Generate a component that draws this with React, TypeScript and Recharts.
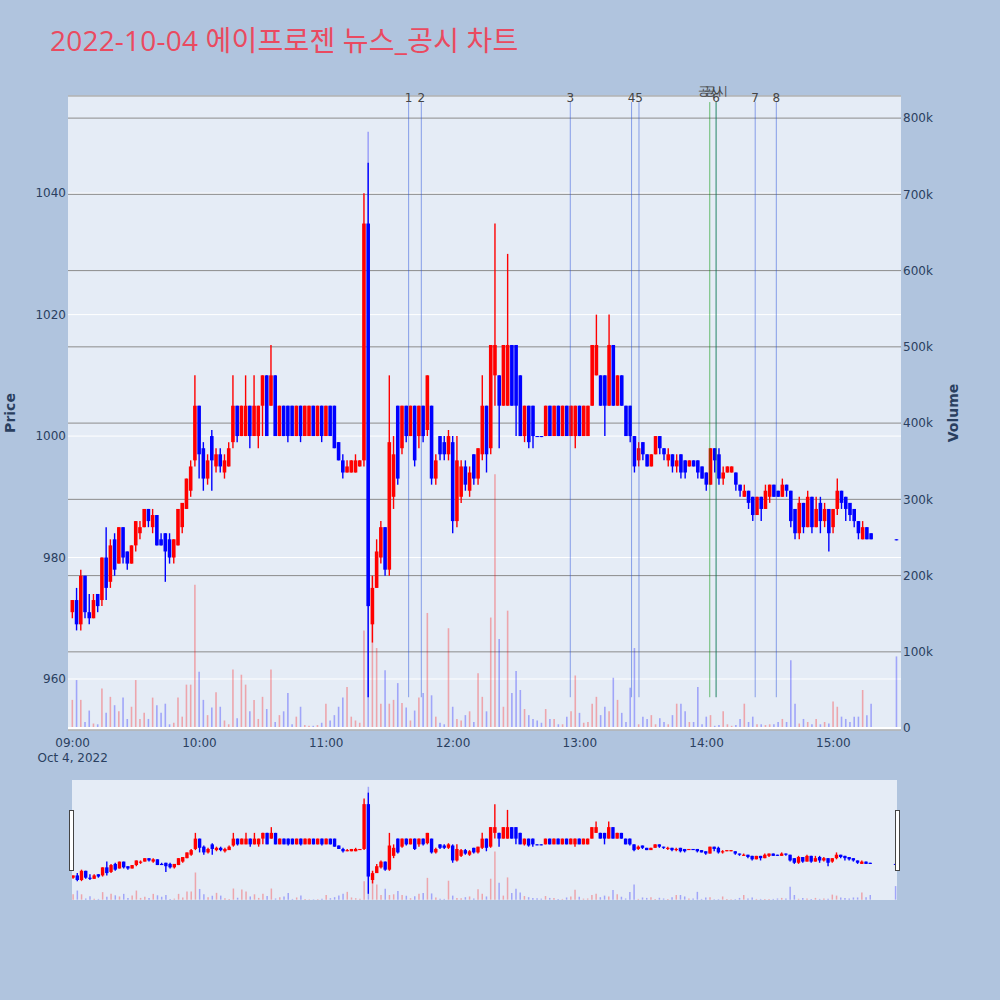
import React from "react";
import {
  Bar,
  CartesianGrid,
  Cell,
  ComposedChart,
  ReferenceLine,
  XAxis,
  YAxis
} from "recharts";

// 2-minute candles from 09:00 (minute 0) to 15:18, plus the 15:30 closing print
const opens = [
  971, 973, 969, 977, 971, 970, 974, 973, 980, 976,
  983, 979, 985, 981, 979, 982, 984, 985, 988, 985,
  987, 983, 984, 983, 980, 982, 985, 988, 991, 996,
  1005, 998, 993, 1000, 995, 997, 994, 995, 999, 1005,
  1000, 1000, 1005, 1000, 1000, 1005, 1010, 1005, 1010, 1000,
  1005, 1005, 1005, 1000, 1005, 1000, 1000, 1005, 1000, 1005,
  1000, 1005, 1005, 999, 996, 994, 994, 994, 995, 996,
  1035, 969, 975, 980, 985, 978, 990, 1005, 998, 1005,
  1000, 1005, 1000, 1005, 1001, 1005, 993, 1000, 999, 997,
  999, 986, 990, 995, 991, 997, 993, 997, 1005, 998,
  1010, 1010, 1005, 1005, 1015, 1015, 1010, 1000, 1005, 1005,
  1000, 1000, 1000, 1005, 1000, 1005, 1000, 1005, 1000, 1000,
  1005, 1000, 1000, 1005, 1010, 1010, 1010, 1005, 1015, 1005,
  1010, 1005, 1005, 1000, 996, 999, 997, 995, 997, 1000,
  998, 996, 997, 995, 997, 996, 995, 996, 996, 995,
  994, 992, 998, 997, 993, 994, 994, 994, 992, 990,
  991, 990, 987, 990, 988, 990, 992, 991, 990, 992,
  991, 988, 984, 989, 985, 990, 985, 989, 986, 988,
  985, 988, 991, 990, 989, 988, 986, 983, 985, 984,
  983
];

const highs = [
  973, 975, 978, 977, 974, 974, 974, 980, 985, 983,
  984, 985, 985, 981, 982, 986, 986, 988, 988, 988,
  987, 984, 984, 984, 983, 988, 989, 993, 996, 1010,
  1005, 999, 997, 1001, 998, 998, 997, 999, 1010, 1005,
  1005, 1010, 1005, 1010, 1005, 1010, 1010, 1015, 1010, 1005,
  1005, 1005, 1005, 1005, 1005, 1005, 1005, 1005, 1005, 1005,
  1005, 1005, 1005, 999, 997, 996, 996, 997, 996, 1040,
  1045, 977, 983, 986, 985, 1010, 1000, 1005, 1005, 1005,
  1005, 1005, 1005, 1005, 1010, 1005, 997, 1000, 1000, 1001,
  1000, 1000, 996, 996, 995, 997, 998, 1010, 1005, 1015,
  1035, 1010, 1015, 1030, 1015, 1015, 1010, 1005, 1005, 1005,
  1000, 1000, 1005, 1005, 1005, 1005, 1005, 1005, 1005, 1005,
  1005, 1005, 1005, 1015, 1020, 1010, 1010, 1020, 1015, 1010,
  1010, 1005, 1005, 1000, 999, 999, 997, 997, 1000, 1000,
  998, 998, 997, 997, 997, 996, 996, 996, 996, 995,
  994, 998, 998, 998, 995, 995, 995, 994, 992, 992,
  991, 990, 990, 990, 992, 992, 992, 991, 993, 992,
  991, 988, 990, 989, 991, 990, 990, 990, 989, 988,
  988, 993, 991, 990, 989, 988, 986, 986, 985, 984,
  983
];

const lows = [
  970, 968, 968, 970, 969, 970, 971, 972, 973, 975,
  977, 979, 979, 978, 979, 981, 983, 985, 985, 984,
  982, 982, 976, 979, 979, 982, 984, 988, 990, 995,
  993, 991, 992, 991, 994, 994, 993, 995, 998, 999,
  1000, 1000, 998, 1000, 998, 1000, 1000, 1005, 1000, 1000,
  1000, 999, 1000, 1000, 999, 1000, 1000, 1000, 1000, 999,
  1000, 1000, 998, 996, 993, 994, 994, 994, 995, 995,
  957, 966, 975, 979, 977, 977, 988, 992, 997, 999,
  1000, 995, 998, 999, 1000, 992, 992, 996, 996, 996,
  984, 985, 989, 991, 990, 992, 992, 996, 994, 997,
  1005, 998, 1005, 1005, 1005, 1000, 1000, 999, 998, 998,
  1000, 1000, 1000, 1000, 1000, 1000, 1000, 1000, 1000, 998,
  1000, 1000, 1000, 1005, 1010, 1005, 1000, 1005, 1005, 1005,
  1005, 1000, 999, 994, 995, 996, 995, 995, 997, 997,
  996, 995, 994, 994, 993, 993, 995, 995, 993, 993,
  991, 992, 994, 992, 992, 994, 994, 991, 990, 990,
  988, 986, 987, 986, 988, 989, 990, 990, 990, 990,
  985, 983, 983, 984, 985, 984, 985, 984, 985, 981,
  984, 987, 988, 986, 986, 985, 983, 983, 983, 983,
  983
];

const closes = [
  973, 969, 977, 971, 970, 973, 972, 980, 975, 982,
  978, 985, 980, 979, 982, 986, 985, 988, 986, 987,
  982, 982, 981, 980, 983, 988, 989, 993, 995, 1005,
  997, 993, 996, 996, 997, 995, 996, 998, 1005, 1000,
  1005, 1005, 1000, 1005, 1005, 1010, 1000, 1010, 1000, 1005,
  1000, 1000, 1000, 1005, 1000, 1005, 1005, 1000, 1005, 1000,
  1005, 1000, 998, 996, 994, 995, 996, 996, 996, 1035,
  972, 975, 981, 985, 978, 999, 997, 993, 1005, 1000,
  1005, 996, 1005, 1000, 1010, 993, 996, 997, 997, 1000,
  986, 996, 995, 992, 994, 993, 998, 1005, 997, 1015,
  1015, 1005, 1015, 1015, 1005, 1005, 1000, 1005, 999, 1000,
  1000, 1000, 1005, 1000, 1005, 1000, 1005, 1000, 1005, 1005,
  1000, 1005, 1005, 1015, 1015, 1005, 1005, 1015, 1005, 1010,
  1005, 1000, 1000, 995, 998, 997, 995, 997, 1000, 998,
  997, 997, 995, 996, 994, 994, 996, 995, 994, 993,
  992, 998, 996, 993, 994, 995, 995, 992, 991, 991,
  989, 987, 990, 988, 991, 992, 990, 990, 992, 991,
  986, 984, 989, 985, 990, 985, 988, 986, 988, 984,
  988, 991, 989, 988, 987, 986, 984, 985, 983, 983,
  983
];

// volume in thousands of shares
const volumesK = [
  37, 63, 37, 8, 23, 6, 5, 52, 20, 41,
  30, 22, 40, 12, 28, 63, 12, 20, 12, 40,
  30, 20, 32, 5, 7, 40, 15, 57, 57, 188,
  74, 37, 17, 27, 47, 28, 10, 5, 77, 13,
  70, 57, 22, 37, 12, 41, 25, 77, 8, 17,
  22, 46, 5, 15, 28, 4, 3, 3, 4, 7,
  32, 10, 17, 28, 40, 54, 15, 10, 7, 128,
  782, 200, 105, 32, 76, 32, 37, 59, 33, 27,
  10, 23, 40, 46, 151, 43, 15, 7, 5, 131,
  28, 12, 10, 17, 22, 8, 72, 41, 22, 145,
  333, 117, 28, 154, 46, 75, 50, 25, 17, 12,
  10, 7, 25, 12, 12, 5, 5, 15, 22, 69,
  20, 7, 8, 32, 41, 17, 28, 22, 66, 37,
  20, 8, 53, 105, 5, 15, 12, 17, 5, 13,
  8, 5, 17, 32, 32, 22, 8, 8, 54, 5,
  15, 17, 3, 4, 22, 5, 3, 4, 12, 32,
  8, 15, 5, 5, 4, 5, 5, 8, 12, 8,
  89, 32, 6, 12, 8, 5, 12, 5, 8, 6,
  35, 28, 15, 12, 8, 15, 15, 50, 17, 32,
  94
];

// news markers (minutes after 09:00) and disclosure markers
const newsMinutes = [159, 165, 235.5, 264.5, 268, 304.5, 323, 333];
const newsLabels = ["1", "2", "3", "4", "5", "6", "7", "8"];
const disclosureMinutes = [301.5, 304.5];

const hourTicks = [0, 60, 120, 180, 240, 300, 360];
const priceTicks = [960, 980, 1000, 1020, 1040];
const volTicks = [0, 100, 200, 300, 400, 500, 600, 700, 800];

const TITLE = "2022-10-04 에이프로젠 뉴스_공시 차트";
const PAGE_BG = "#b0c4de";
const PLOT_BG = "#e5ecf6";
const RED = "#ff0000";
const BLUE = "#0000ff";
const TICK = "#2a3f5f";
const FONT = "'DejaVu Sans', Verdana, sans-serif";

const X_DOMAIN: [number, number] = [-2.2, 392];
const SLIDER_X_DOMAIN: [number, number] = [-0.7, 390.5];
const PRICE_DOMAIN: [number, number] = [951.6, 1056];
const VOL_DOMAIN: [number, number] = [-2.5, 829];

const CLOSING_MINUTE = 390;
const minutes = opens.map((_, i) => (i < opens.length - 1 ? i * 2 : CLOSING_MINUTE));

const rows = opens.map((o, i) => ({
  t: minutes[i],
  o,
  h: highs[i],
  l: lows[i],
  c: closes[i],
  hl: [lows[i], highs[i]],
  v: volumesK[i]
}));

const fmtTime = (m: number) =>
  `${String(9 + Math.floor(m / 60)).padStart(2, "0")}:${String(m % 60).padStart(2, "0")}`;

function CandleShape(props: any) {
  const { x, y, width, height, payload } = props;
  if (x == null || y == null || !payload) return null;
  const { o, h, l, c } = payload;
  const color = c > o ? RED : BLUE;
  const span = h - l;
  const k = span > 0 ? height / span : 0;
  const yO = y + (h - o) * k;
  const yC = y + (h - c) * k;
  const top = Math.min(yO, yC);
  const bodyH = Math.max(Math.abs(yO - yC), 1);
  const cx = x + width / 2;
  return (
    <g>
      <line x1={cx} x2={cx} y1={y} y2={y + Math.max(height, 1)} stroke={color} strokeWidth={1.4} />
      <rect x={x} y={top} width={width} height={bodyH} fill={color} />
    </g>
  );
}

function TimeTick(props: any) {
  const { x, y, payload } = props;
  return (
    <text x={x} y={y} textAnchor="middle" fill={TICK} fontSize={12} fontFamily={FONT}>
      <tspan x={x} dy="0.71em">{fmtTime(payload.value)}</tspan>
      {payload.value === 0 && (
        <tspan x={x} dy="1.3em">Oct 4, 2022</tspan>
      )}
    </text>
  );
}

function MarkerLabel(props: any) {
  const { viewBox, text, lift } = props;
  if (!viewBox) return null;
  return (
    <text x={viewBox.x} y={viewBox.y - lift} textAnchor="middle" fill="#444" fontSize={12} fontFamily={FONT}>
      {text}
    </text>
  );
}

const volCells = rows.map((r, i) => (
  <Cell key={i} fill={r.c > r.o ? "rgba(255,0,0,0.3)" : "rgba(0,0,255,0.3)"} />
));

function MainChart() {
  return (
    <ComposedChart width={1000} height={770} data={rows} margin={{ top: 96, right: 39, bottom: 10, left: 8 }}>
      <CartesianGrid xAxisId="p" yAxisId="price" vertical={false} stroke="#ffffff" fill={PLOT_BG} fillOpacity={1} />
      <CartesianGrid xAxisId="p" yAxisId="vol" vertical={false} stroke="#8c8c8c" />
      <XAxis
        xAxisId="p"
        type="number"
        dataKey="t"
        domain={X_DOMAIN}
        ticks={hourTicks}
        interval={0}
        tick={(p: any) => <TimeTick {...p} />}
        tickSize={0}
        tickMargin={8}
        axisLine={false}
        tickLine={false}
        height={30}
        allowDataOverflow
      />
      <XAxis xAxisId="v" type="number" dataKey="t" domain={X_DOMAIN} hide allowDataOverflow />
      <YAxis
        yAxisId="price"
        orientation="left"
        width={60}
        domain={PRICE_DOMAIN}
        ticks={priceTicks}
        interval={0}
        allowDataOverflow
        axisLine={false}
        tickLine={false}
        tickSize={0}
        tickMargin={2}
        tick={{ fill: TICK, fontSize: 12, fontFamily: FONT }}
      />
      <YAxis
        yAxisId="vol"
        orientation="right"
        width={60}
        domain={VOL_DOMAIN}
        ticks={volTicks}
        interval={0}
        allowDataOverflow
        axisLine={false}
        tickLine={false}
        tickSize={0}
        tickMargin={2}
        tickFormatter={(v: number) => (v === 0 ? "0" : `${v}k`)}
        tick={{ fill: TICK, fontSize: 12, fontFamily: FONT, textAnchor: "start" }}
      />
      <ReferenceLine xAxisId="p" yAxisId="vol" y={0} stroke="#ffffff" strokeWidth={2} />
      <Bar xAxisId="v" yAxisId="vol" dataKey="v" barSize={1.6} isAnimationActive={false}>
        {volCells}
      </Bar>
      <Bar
        xAxisId="p"
        yAxisId="price"
        dataKey="hl"
        barSize={3.6}
        isAnimationActive={false}
        shape={(p: any) => <CandleShape {...p} />}
      />
      {newsMinutes.map((m, i) => (
        <ReferenceLine
          key={`n${i}`}
          xAxisId="p"
          yAxisId="price"
          segment={[{ x: m, y: 957 }, { x: m, y: 1055 }]}
          stroke="rgba(40,80,220,0.5)"
          strokeWidth={1}
          label={<MarkerLabel text={newsLabels[i]} lift={0} />}
        />
      ))}
      {disclosureMinutes.map((m, i) => (
        <ReferenceLine
          key={`d${i}`}
          xAxisId="p"
          yAxisId="price"
          segment={[{ x: m, y: 957 }, { x: m, y: 1055 }]}
          stroke="rgba(0,150,0,0.55)"
          strokeWidth={1}
          label={<MarkerLabel text="공시" lift={7.5} />}
        />
      ))}
    </ComposedChart>
  );
}

function SliderChart() {
  return (
    <ComposedChart width={825} height={120} data={rows} margin={{ top: 0, right: 0, bottom: 0, left: 0 }}>
      <XAxis xAxisId="p" type="number" dataKey="t" domain={SLIDER_X_DOMAIN} hide allowDataOverflow />
      <XAxis xAxisId="v" type="number" dataKey="t" domain={SLIDER_X_DOMAIN} hide allowDataOverflow />
      <YAxis yAxisId="price" domain={PRICE_DOMAIN} hide allowDataOverflow />
      <YAxis yAxisId="vol" domain={VOL_DOMAIN} hide allowDataOverflow />
      <Bar xAxisId="v" yAxisId="vol" dataKey="v" barSize={1.5} isAnimationActive={false}>
        {volCells}
      </Bar>
      <Bar
        xAxisId="p"
        yAxisId="price"
        dataKey="hl"
        barSize={3.4}
        isAnimationActive={false}
        shape={(p: any) => <CandleShape {...p} />}
      />
    </ComposedChart>
  );
}

const handleStyle: React.CSSProperties = {
  position: "absolute",
  top: 810,
  width: 3,
  height: 59,
  background: "#ffffff",
  border: "1px solid #444"
};

export default function App() {
  return (
    <div style={{ position: "absolute", left: 0, top: 0, width: 1000, height: 1000, background: PAGE_BG, overflow: "hidden" }}>
      <div style={{ position: "absolute", left: 0, top: 0 }}>
        <MainChart />
      </div>
      <div style={{ position: "absolute", left: 72, top: 780, width: 825, height: 120, background: PLOT_BG }}>
        <SliderChart />
      </div>
      <div style={{ ...handleStyle, left: 69 }} />
      <div style={{ ...handleStyle, left: 895 }} />
      <svg width={1000} height={1000} style={{ position: "absolute", left: 0, top: 0, pointerEvents: "none" }}>
        <text
          x={50}
          y={51}
          fontSize={28}
          letterSpacing={0.2}
          fill="#ea4a60"
          fontFamily="'Open Sans', 'Noto Sans CJK KR', sans-serif"
        >
          {TITLE}
        </text>
        <text transform="translate(15,413) rotate(-90)" textAnchor="middle" fontSize={14} fontWeight="bold" fill={TICK} fontFamily={FONT}>
          Price
        </text>
        <text transform="translate(958,413) rotate(-90)" textAnchor="middle" fontSize={14} fontWeight="bold" fill={TICK} fontFamily={FONT}>
          Volume
        </text>
      </svg>
    </div>
  );
}
